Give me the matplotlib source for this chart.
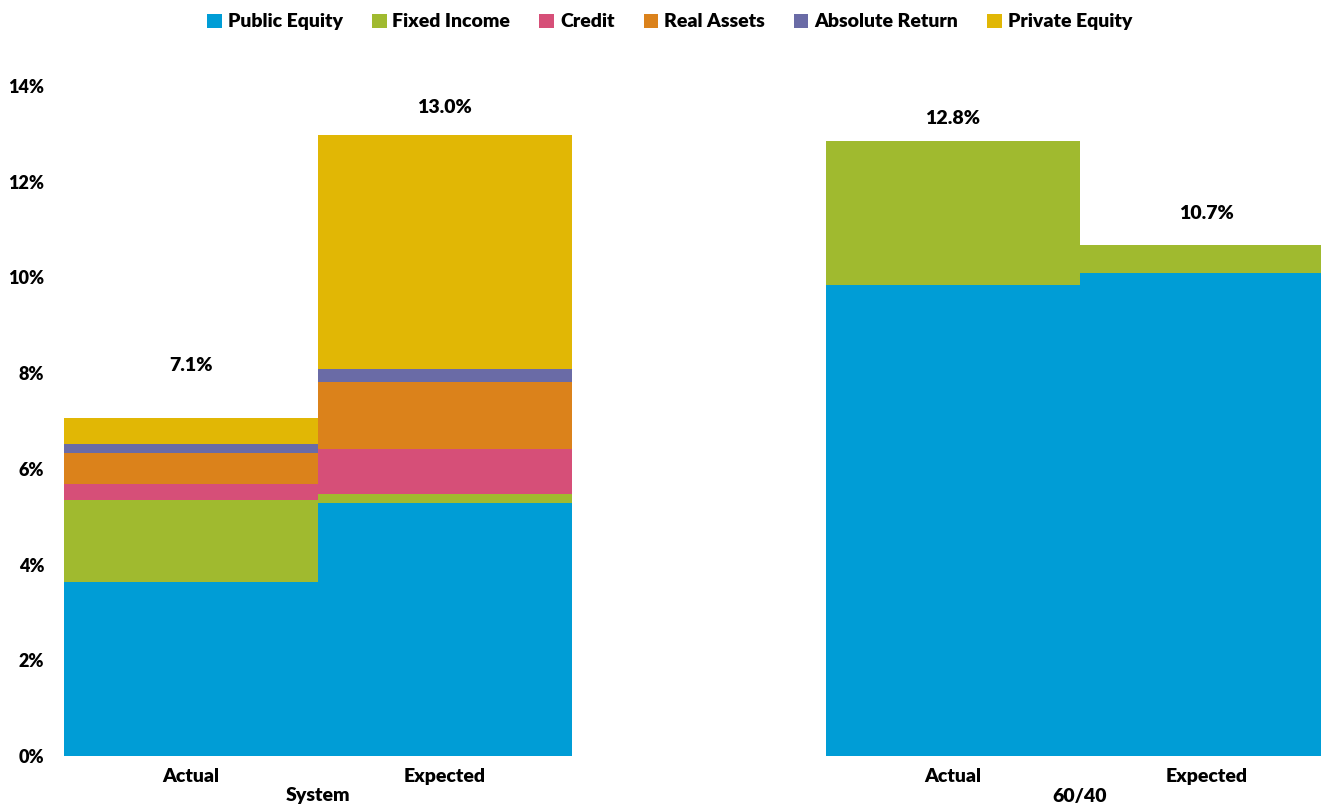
import matplotlib
matplotlib.use("Agg")
import matplotlib.pyplot as plt
import matplotlib.transforms as mtransforms
import numpy as np

plt.rcParams['font.family'] = ['Lato', 'DejaVu Sans']

# data
bars = ["Actual", "Expected", "Actual", "Expected"]
groups = ["System", "60/40"]
series = ["Public Equity", "Fixed Income", "Credit", "Real Assets",
          "Absolute Return", "Private Equity"]
public_equity = [3.63, 5.28, 9.85, 10.10]
fixed_income = [1.71, 0.19, 2.99, 0.58]
credit = [0.34, 0.94, 0.0, 0.0]
real_assets = [0.65, 1.40, 0.0, 0.0]
absolute_return = [0.19, 0.27, 0.0, 0.0]
private_equity = [0.55, 4.90, 0.0, 0.0]
totals = ["7.1%", "13.0%", "12.8%", "10.7%"]

colors = ["#009DD6", "#A0BA2F", "#D64F78", "#DB821B", "#6A6BA6", "#E1B705"]
label_offset = [1.08, 0.57, 0.48, 0.65]

x = np.array([0, 1, 3, 4])
W = "heavy"

fig = plt.figure(figsize=(13.21, 8.08), dpi=100)
ax = fig.add_axes([0.0484, 0.0644, 0.9516, 0.8292])

values = [public_equity, fixed_income, credit, real_assets, absolute_return, private_equity]
bottom = np.zeros(4)
for name, vals, c in zip(series, values, colors):
    ax.bar(x, vals, width=1.0, bottom=bottom, color=c, label=name,
           edgecolor="none")
    bottom += np.array(vals)

for xi, top, lab, off in zip(x, bottom, totals, label_offset):
    ax.text(xi, top + off, lab, ha="center", va="center", fontsize=14,
            fontweight=W)

ax.set_xlim(-0.5, 4.45)
ax.set_ylim(0, 14)
ax.set_yticks(np.arange(0, 15, 2))
ax.set_yticklabels([f"{v}%" for v in range(0, 15, 2)], fontsize=13,
                   fontweight=W)
ax.set_xticks(x)
ax.set_xticklabels(bars, fontsize=14, fontweight=W)
ax.tick_params(length=0, pad=9)
ax.tick_params(axis="y", pad=14)
for s in ax.spines.values():
    s.set_visible(False)

trans = mtransforms.blended_transform_factory(ax.transData, fig.transFigure)
ax.text(0.5, 0.016, groups[0], transform=trans, ha="center", va="center",
        fontsize=14, fontweight=W)
ax.text(3.5, 0.014, groups[1], transform=trans, ha="center", va="center",
        fontsize=14, fontweight=W)

fig.legend(loc="upper center", bbox_to_anchor=(0.507, 1.005), ncol=6,
           frameon=False, handlelength=0.75, handleheight=0.75,
           handletextpad=0.3, columnspacing=1.5,
           prop={"size": 14, "weight": W})

fig.savefig("out.png", dpi=100)
